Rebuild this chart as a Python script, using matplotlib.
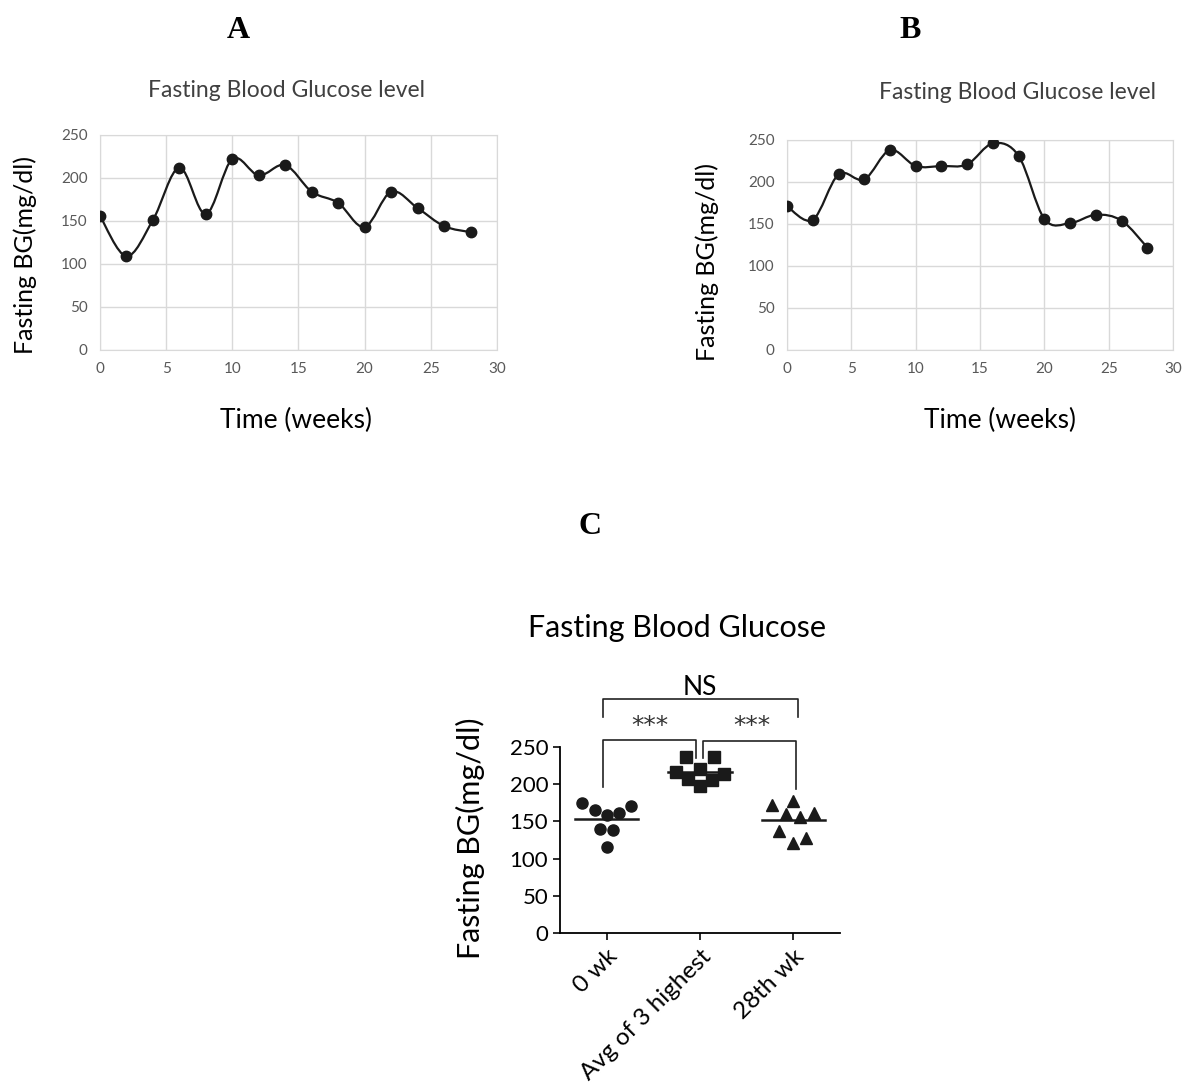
import matplotlib
matplotlib.use("Agg")
import matplotlib.pyplot as plt
import numpy as np
from matplotlib.path import Path
from matplotlib.patches import PathPatch

plt.rcParams['font.family'] = ['Lato', 'DejaVu Sans']

# data
weeks = [0, 2, 4, 6, 8, 10, 12, 14, 16, 18, 20, 22, 24, 26, 28]
bg_a = [156, 109, 151, 212, 158, 222, 203, 215, 184, 171, 143, 184, 165, 144, 137]
bg_b = [171, 155, 209, 203, 238, 219, 219, 221, 246, 231, 156, 151, 161, 154, 122]

groups = ['0 wk', 'Avg of 3 highest', '28th wk']
wk0 = [175, 165, 158, 161, 171, 140, 138, 116]
avg3 = [237, 237, 216, 220, 214, 207, 206, 198]
wk28 = [172, 178, 160, 156, 161, 137, 128, 121]
jitter0 = [-0.26, -0.13, 0.0, 0.13, 0.26, -0.07, 0.07, 0.0]
jitter1 = [-0.15, 0.15, -0.26, 0.0, 0.26, -0.13, 0.13, 0.0]
jitter2 = [-0.23, 0.0, -0.08, 0.07, 0.22, -0.15, 0.14, 0.0]

dark = '#1a1a1a'
gray_txt = '#595959'
grid_c = '#d9d9d9'


def smooth_path(x, y):
    # excel-like smoothed line (bezier through the points)
    pts = np.column_stack([x, y]).astype(float)
    n = len(pts)
    verts = [pts[0]]
    codes = [Path.MOVETO]
    for i in range(n - 1):
        p0 = pts[i - 1] if i > 0 else pts[i]
        p1 = pts[i]
        p2 = pts[i + 1]
        p3 = pts[i + 2] if i + 2 < n else pts[i + 1]
        c1 = p1 + (p2 - p0) / 6.0
        c2 = p2 - (p3 - p1) / 6.0
        verts += [c1, c2, p2]
        codes += [Path.CURVE4] * 3
    return Path(verts, codes)


def line_panel(ax, x, y):
    ax.set_xlim(0, 30)
    ax.set_ylim(0, 250)
    ax.set_xticks(range(0, 31, 5))
    ax.set_yticks(range(0, 251, 50))
    ax.grid(color=grid_c, linewidth=1.0)
    ax.set_axisbelow(True)
    for s in ax.spines.values():
        s.set_color(grid_c)
    ax.tick_params(length=0, labelsize=11, labelcolor=gray_txt, pad=9)
    ax.add_patch(PathPatch(smooth_path(x, y), fill=False, edgecolor=dark,
                           linewidth=1.6, transform=ax.transData, zorder=3))
    ax.plot(x, y, 'o', color=dark, markersize=7.5, zorder=4)


fig = plt.figure(figsize=(11.83, 10.91), dpi=100)

ax_a = fig.add_axes([0.0845, 0.6792, 0.3356, 0.1971])
line_panel(ax_a, weeks, bg_a)
ax_b = fig.add_axes([0.6653, 0.6792, 0.3263, 0.1925])
line_panel(ax_b, weeks, bg_b)

fig.text(0.2012, 0.9725, 'A', family='Liberation Serif', weight='bold', fontsize=23, ha='center', va='center')
fig.text(0.7692, 0.9725, 'B', family='Liberation Serif', weight='bold', fontsize=23, ha='center', va='center')
fig.text(0.4987, 0.517, 'C', family='Liberation Serif', weight='bold', fontsize=23, ha='center', va='center')

fig.text(0.2426, 0.9166, 'Fasting Blood Glucose level', fontsize=16.5, color='#404040', ha='center', va='center')
fig.text(0.8597, 0.9148, 'Fasting Blood Glucose level', fontsize=16.5, color='#404040', ha='center', va='center')
fig.text(0.0211, 0.7663, 'Fasting BG(mg/dl)', fontsize=18, rotation=90, ha='center', va='center')
fig.text(0.5976, 0.76, 'Fasting BG(mg/dl)', fontsize=18, rotation=90, ha='center', va='center')
fig.text(0.2502, 0.615, 'Time (weeks)', fontsize=19, ha='center', va='center')
fig.text(0.8453, 0.615, 'Time (weeks)', fontsize=19, ha='center', va='center')

# panel C
ax_c = fig.add_axes([0.4734, 0.1448, 0.2367, 0.1705])
ax_c.set_xlim(-0.5, 2.5)
ax_c.set_ylim(0, 250)
ax_c.spines['top'].set_visible(False)
ax_c.spines['right'].set_visible(False)
for s in ['left', 'bottom']:
    ax_c.spines[s].set_linewidth(1.3)
ax_c.set_yticks(range(0, 251, 50))
ax_c.set_xticks(range(3))
ax_c.set_xticklabels(groups, rotation=45, ha='right', rotation_mode='anchor')
ax_c.tick_params(axis='y', labelsize=16, width=1.3, length=5, color=dark)
ax_c.tick_params(axis='x', labelsize=17.5, width=1.3, length=5, color=dark, pad=4)

markers = ['o', 's', '^']
for i, (vals, jit) in enumerate(zip([wk0, avg3, wk28], [jitter0, jitter1, jitter2])):
    xs = [i + j for j in jit]
    ax_c.plot(xs, vals, markers[i], color=dark, markersize=8, linestyle='none', clip_on=False, zorder=3)
    m = np.mean(vals)
    ax_c.plot([i - 0.34, i + 0.34], [m, m], color=dark, linewidth=1.8, zorder=2)

bk = dict(color='#222222', linewidth=1.2, clip_on=False)
ax_c.plot([-0.04, -0.04, 2.05, 2.05], [291, 314, 314, 291], **bk)
ax_c.plot([-0.04, -0.04, 0.96, 0.96], [196, 259, 259, 235], **bk)
ax_c.plot([1.03, 1.03, 2.03, 2.03], [235, 258, 258, 193], **bk)
ax_c.text(1.0, 330, 'NS', fontsize=19, ha='center', va='center')
ax_c.text(0.46, 278, '***', fontsize=18, ha='center', va='center', family='DejaVu Sans', color='#333333')
ax_c.text(1.55, 278, '***', fontsize=18, ha='center', va='center', family='DejaVu Sans', color='#333333')

fig.text(0.5723, 0.4244, 'Fasting Blood Glucose', fontsize=22, ha='center', va='center')
fig.text(0.3973, 0.2319, 'Fasting BG(mg/dl)', fontsize=22, rotation=90, ha='center', va='center')

fig.savefig('out.png', dpi=100)
